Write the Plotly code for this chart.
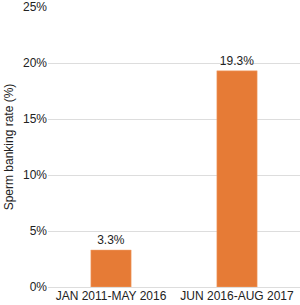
import plotly.graph_objects as go

categories = ["JAN 2011-MAY 2016", "JUN 2016-AUG 2017"]
rates = [3.3, 19.3]
labels = ["3.3%", "19.3%"]
y_ticks = [0, 5, 10, 15, 20, 25]
y_ticktext = ["0%", "5%", "10%", "15%", "20%", "25%"]

fig = go.Figure(go.Bar(
    x=categories, y=rates, text=labels, textposition="outside",
    marker=dict(color="#E67B36", line=dict(color="#F2A877", width=0.5)),
    textfont=dict(size=12, color="#222222"),
    cliponaxis=False,
))
fig.update_layout(
    width=300, height=305,
    margin=dict(l=48, r=0, t=7, b=18),
    paper_bgcolor="white", plot_bgcolor="white",
    font=dict(family="Liberation Sans, Arial, sans-serif", size=12, color="#222222"),
    bargap=0.68,
    showlegend=False,
    xaxis=dict(showgrid=False, showline=False, ticks="", tickfont=dict(size=12)),
    yaxis=dict(range=[0, 25], tickvals=y_ticks, ticktext=y_ticktext,
               showgrid=True, gridcolor="#DDDDDD", gridwidth=1,
               zeroline=True, zerolinecolor="#DDDDDD", zerolinewidth=1,
               showline=False, ticks="", tickfont=dict(size=12),
               title=dict(text="Sperm banking rate (%)", font=dict(size=12), standoff=6)),
)
fig.write_html("out.html")
